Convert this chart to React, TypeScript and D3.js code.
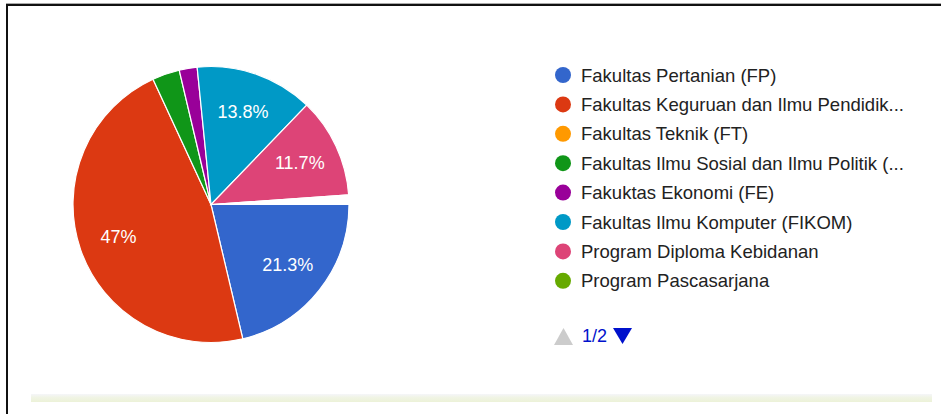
import React from "react";
import * as d3 from "d3";

const categories = [
  "Fakultas Pertanian (FP)",
  "Fakultas Keguruan dan Ilmu Pendidik...",
  "Fakultas Teknik (FT)",
  "Fakultas Ilmu Sosial dan Ilmu Politik (...",
  "Fakuktas Ekonomi (FE)",
  "Fakultas Ilmu Komputer (FIKOM)",
  "Program Diploma Kebidanan",
  "Program Pascasarjana",
];
// slice shares in percent (legend order), plus one thin unlabeled slice from page 2
const values = [21.3, 46.8, 0, 3.2, 2.1, 13.8, 11.7, 0];
const hiddenValue = 1.1;
const labels = ["21.3%", "47%", "", "", "", "13.8%", "11.7%", ""];
const colors = ["#3366CC", "#DC3912", "#FF9900", "#109618", "#990099", "#0099C6", "#DD4477", "#66AA00"];
const pageLabel = "1/2";

const W = 941;
const H = 414;
const cx = 211;
const cy = 204.5;
const R = 138;
const FONT = "'Liberation Sans', Arial, sans-serif";

export default function App() {
  const start = Math.PI / 2;
  const all = [...values, hiddenValue];
  const fills = [...colors, "#ffffff"];
  const pie = d3
    .pie<number>()
    .sort(null)
    .value((d) => d)
    .startAngle(start)
    .endAngle(start + 2 * Math.PI);
  const arcs = pie(all);
  const arc = d3.arc<d3.PieArcDatum<number>>().innerRadius(0).outerRadius(R);
  const labelArc = d3.arc<d3.PieArcDatum<number>>().innerRadius(98).outerRadius(98);

  const legendY = d3.scaleLinear().domain([0, 1]).range([75, 75 + 29.4]);

  return (
    <svg
      width={W}
      height={H}
      style={{ position: "absolute", left: 0, top: 0, background: "#fff" }}
      fontFamily={FONT}
    >
      <defs>
        <linearGradient id="band" x1="0" y1="0" x2="0" y2="1">
          <stop offset="0" stopColor="#f5f6f9" />
          <stop offset="0.45" stopColor="#f0f4e4" />
          <stop offset="1" stopColor="#ecf2d8" />
        </linearGradient>
      </defs>
      {/* frame */}
      <line x1={6} x2={W} y1={3.5} y2={3.5} stroke="#aaa" strokeWidth={1} />
      <line x1={6} x2={W} y1={5} y2={5} stroke="#111" strokeWidth={2} />
      <line x1={7} x2={7} y1={4} y2={H} stroke="#111" strokeWidth={2} />
      <rect x={31} y={394} width={901} height={8} fill="url(#band)" />

      {/* pie */}
      <g transform={`translate(${cx},${cy})`}>
        {arcs.map((a, i) =>
          a.value > 0 ? (
            <path key={i} d={arc(a) || ""} fill={fills[i]} stroke="#fff" strokeWidth={1.2} />
          ) : null
        )}
        {arcs.map((a, i) => {
          if (!labels[i]) return null;
          const [lx, ly] = labelArc.centroid(a);
          return (
            <text
              key={"l" + i}
              x={lx}
              y={ly}
              textAnchor="middle"
              dominantBaseline="central"
              fill="#fff"
              fontSize={18}
            >
              {labels[i]}
            </text>
          );
        })}
      </g>

      {/* legend */}
      <g>
        {categories.map((c, i) => (
          <g key={c} transform={`translate(0,${legendY(i)})`}>
            <circle cx={563} cy={0} r={8} fill={colors[i]} />
            <text x={581} y={0} dominantBaseline="central" fontSize={18.5} fill="#222">
              {c}
            </text>
          </g>
        ))}
      </g>

      {/* pager */}
      <path d="M554,345 L563.5,328 L573,345 Z" fill="#ccc" />
      <text x={594.5} y={336} textAnchor="middle" dominantBaseline="central" fontSize={18} fill="#0011cc">
        {pageLabel}
      </text>
      <path d="M613,328 L632,328 L622.5,344 Z" fill="#0011cc" />
    </svg>
  );
}
